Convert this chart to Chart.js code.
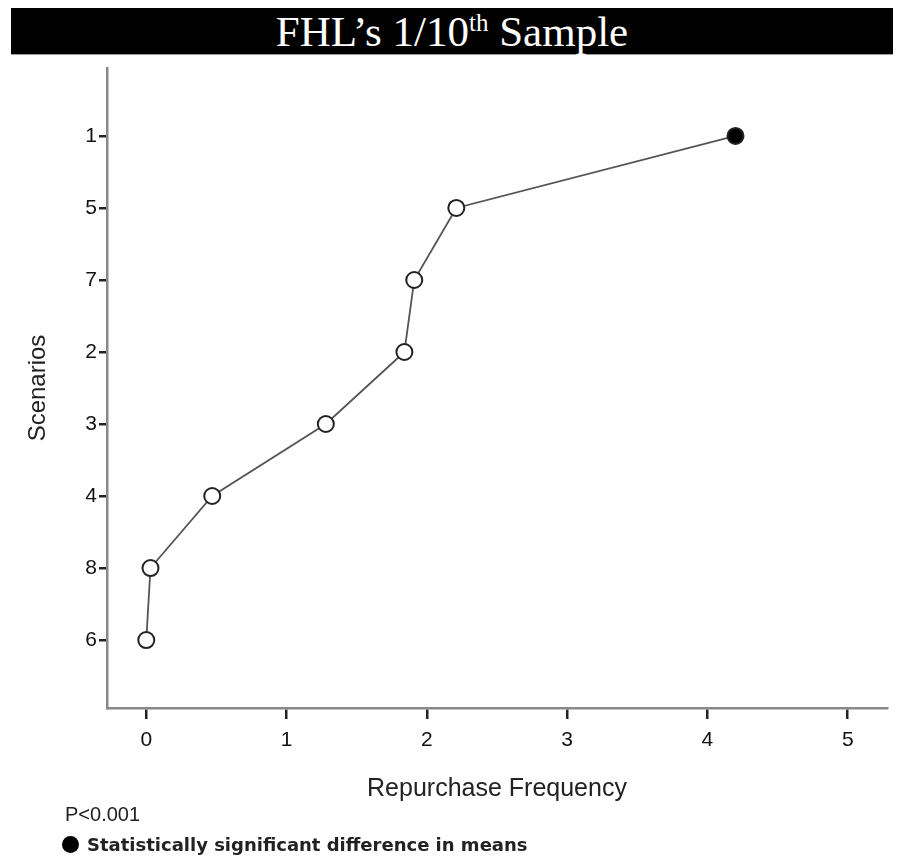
<!DOCTYPE html>
<html>
<head>
<meta charset="utf-8">
<script src="https://cdn.jsdelivr.net/npm/chart.js@4.4.1/dist/chart.umd.min.js"></script>
<style>
  body { margin: 0; background: #fff; }
  #wrap { position: relative; width: 897px; height: 860px; overflow: hidden; }
  #chart { position: absolute; left: 0; top: 0; }
  #title {
    position: absolute; left: 11px; top: 8px; width: 882px; height: 46px;
    background: #000; border-bottom: 1px solid #999;
    color: #fff; font-family: "Liberation Serif", serif; font-size: 43px;
    line-height: 48px; text-align: center;
  }
  #title sup { font-size: 25px; vertical-align: 15px; line-height: 0; }
  #pval {
    position: absolute; left: 65px; top: 803px;
    font-family: "Liberation Sans", Arial, sans-serif; font-size: 20px; color: #222;
  }
  #legend {
    position: absolute; left: 62px; top: 834px; height: 22px;
    font-family: "DejaVu Sans", sans-serif; font-size: 18px; font-weight: bold; color: #222;
    line-height: 22px; white-space: nowrap;
  }
  #legend span.dot {
    display: inline-block; width: 17px; height: 17px; border-radius: 50%;
    background: #000; vertical-align: -2px; margin-right: 8px;
  }
</style>
</head>
<body>
<div id="wrap">
  <canvas id="chart" width="897" height="860"></canvas>
  <div id="title">FHL’s 1/10<sup>th</sup> Sample</div>
  <div id="pval">P&lt;0.001</div>
  <div id="legend"><span class="dot"></span>Statistically significant difference in means</div>
</div>
<script>
// scenarios top to bottom, and their mean repurchase frequency
const scenarios = ['1', '5', '7', '2', '3', '4', '8', '6'];
const frequency = [4.20, 2.21, 1.91, 1.84, 1.28, 0.47, 0.03, 0.00];
const significant = [true, false, false, false, false, false, false, false];
const xTicks = [0, 1, 2, 3, 4, 5];

const points = scenarios.map((s, i) => ({ x: frequency[i], y: i }));

const ctx = document.getElementById('chart').getContext('2d');
new Chart(ctx, {
  type: 'scatter',
  data: {
    datasets: [{
      data: points,
      showLine: true,
      borderColor: '#555',
      borderWidth: 1.8,
      pointRadius: 8,
      pointHoverRadius: 8,
      pointBorderWidth: 2,
      pointBorderColor: '#222',
      pointBackgroundColor: significant.map(s => s ? '#000' : '#fff')
    }]
  },
  options: {
    responsive: false,
    animation: false,
    layout: { padding: { top: 68, right: 7, left: 0, bottom: 0 } },
    plugins: { legend: { display: false }, tooltip: { enabled: false } },
    scales: {
      x: {
        type: 'linear',
        min: -0.28,
        max: 5.28,
        afterBuildTicks: axis => { axis.ticks = xTicks.map(v => ({ value: v })); },
        afterFit: axis => { axis.height = 152; },
        grid: {
          drawOnChartArea: false, drawTicks: true, tickLength: 11,
          tickColor: '#222', tickWidth: 2.5, color: '#222', lineWidth: 2.5
        },
        border: { display: true, color: '#888', width: 2.5 },
        ticks: { padding: 9, color: '#111', font: { family: 'Liberation Sans', size: 21 } },
        title: {
          display: true, text: 'Repurchase Frequency', color: '#222',
          font: { family: 'Liberation Sans', size: 25 },
          padding: { top: 0, bottom: 56 }
        }
      },
      y: {
        type: 'linear',
        reverse: true,
        min: -0.944,
        max: 7.944,
        afterBuildTicks: axis => { axis.ticks = scenarios.map((s, i) => ({ value: i })); },
        afterFit: axis => { axis.width = 107; },
        grid: {
          drawOnChartArea: false, drawTicks: true, tickLength: 8,
          tickColor: '#222', tickWidth: 2.5, color: '#222', lineWidth: 2.5
        },
        border: { display: true, color: '#888', width: 2.5 },
        ticks: {
          padding: 2, color: '#111', font: { family: 'Liberation Sans', size: 21 },
          callback: v => scenarios[v]
        },
        title: {
          display: true, text: 'Scenarios', color: '#222',
          font: { family: 'Liberation Sans', size: 24 },
          padding: { top: 24, bottom: 0 }
        }
      }
    }
  }
});
</script>
</body>
</html>
